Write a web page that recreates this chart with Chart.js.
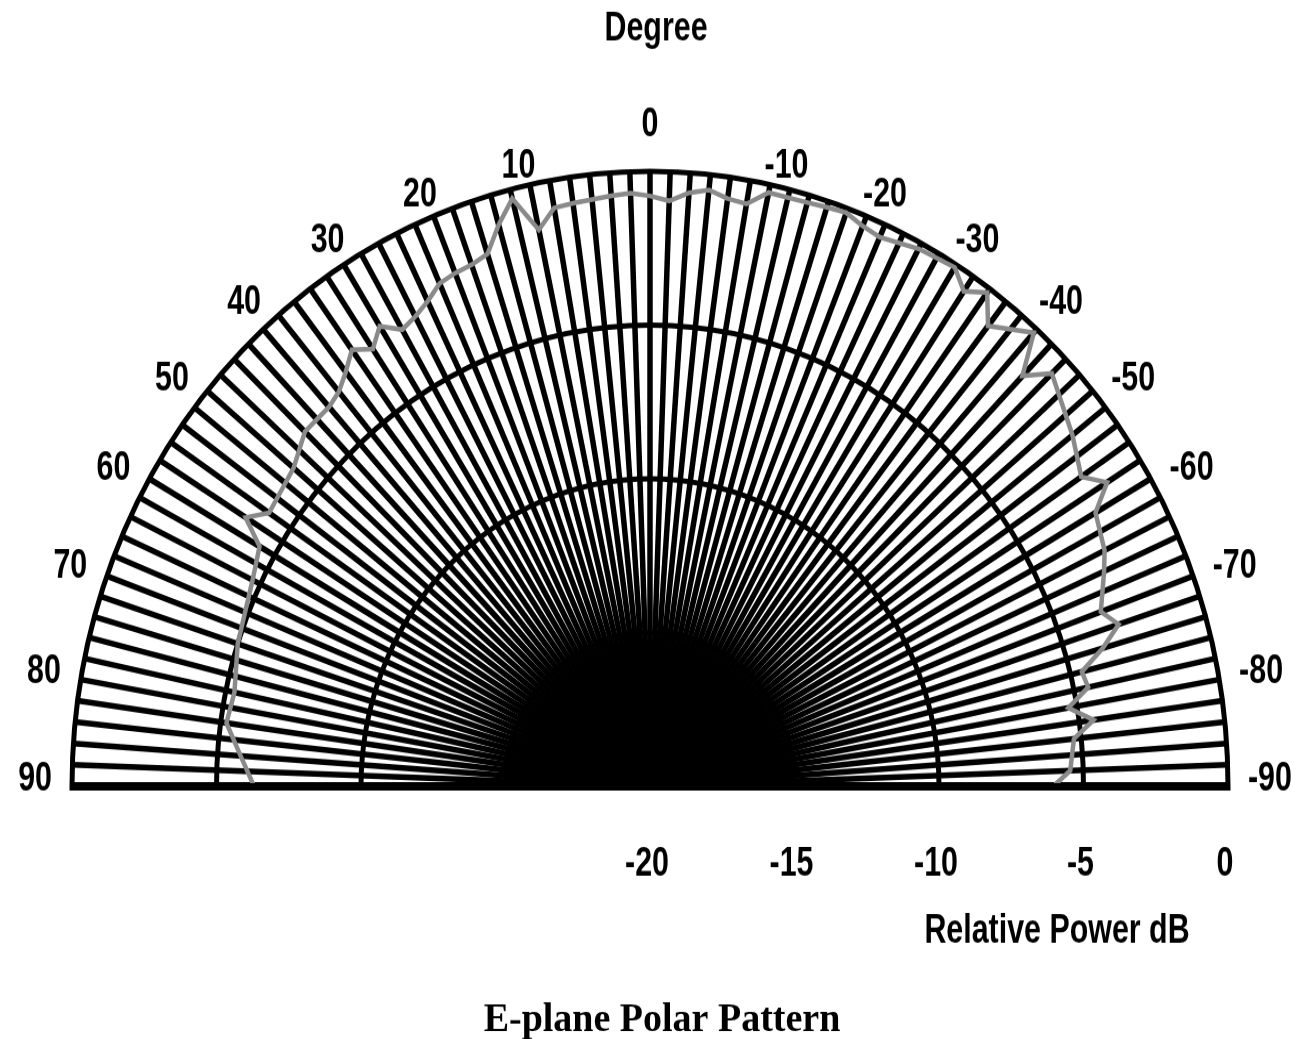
<!DOCTYPE html>
<html lang="en">
<head>
<meta charset="UTF-8">
<title>E-plane Polar Pattern</title>
<script src="https://cdn.jsdelivr.net/npm/chart.js"></script>
<style>
    html, body {
        margin: 0;
        padding: 0;
        background: #fff;
        overflow: hidden;
    }
    #polar {
        display: block;
        transform: scaleY(1.064);
        transform-origin: 0 0;
    }
</style>
</head>
<body>
<canvas id="polar" width="1297" height="1478"></canvas>
<script>
    // E-plane measurement: angle in degrees, relative power in dB
    const patternAngles = [90, 86, 82, 78, 72, 64, 60, 58, 56, 50,
        46, 42, 40, 38, 36, 34, 32, 30, 28, 26,
        24, 22, 20, 18, 16, 14, 12, 10, 8, 4,
        2, 0, -2, -4, -6, -8, -10, -12, -16, -18,
        -20, -22, -24, -28, -32, -34, -36, -38, -42, -44,
        -46, -52, -56, -58, -60, -64, -66, -70, -72, -74,
        -76, -78, -80, -82, -84, -88, -90];
    const patternPower = [-6.3, -5.8, -5.2, -5.3, -5.0, -4.7, -4.4, -3.5, -4.1, -3.9,
        -3.4, -3.4, -3.25, -2.9, -2.45, -2.85, -2.35, -2.85, -2.7, -2.45,
        -2.1, -2.0, -1.95, -1.8, -1.0, -0.3, -1.5, -0.9, -0.85, -0.75,
        -0.7, -0.8, -0.95, -0.65, -0.5, -0.7, -0.77, -0.26, -0.25, -0.2,
        -0.15, -0.35, -0.45, -0.2, -0.1, -0.58, -0.15, -1.0, -0.15, -1.45,
        -0.67, -1.45, -2.0, -1.35, -2.2, -2.5, -2.8, -3.4, -2.95, -3.7,
        -4.6, -4.5, -5.3, -4.5, -5.25, -5.45, -6.05];
    const angleTickLabels = [90, 80, 70, 60, 50, 40, 30, 20, 10, 0,
        -10, -20, -30, -40, -50, -60, -70, -80, -90];
    const powerTicks = [-20, -15, -10, -5, 0];

    const labelFont = 'bold 38px "Liberation Sans", Arial, sans-serif';
    const narrow = 0.8;

    // a spoke every 2 degrees round the whole circle; only the upper half is shown
    const spokeAngles = [];
    for (let i = 0; i < 180; i++) spokeAngles.push(90 - 2 * i);
    const spokeIndex = a => (90 - a) / 2;

    const powerData = spokeAngles.map(() => null);
    patternAngles.forEach((a, k) => {
        powerData[spokeIndex(a)] = patternPower[k];
    });

    // condensed text anchored at (x, y) with the current textAlign
    function narrowText(ctx, text, x, y) {
        ctx.save();
        ctx.translate(x, y);
        ctx.scale(narrow, 1);
        ctx.fillText(text, 0, 0);
        ctx.restore();
    }

    function clipAbove(chart, bottom) {
        const ctx = chart.ctx;
        ctx.save();
        ctx.beginPath();
        ctx.rect(0, 0, chart.width, bottom);
        ctx.clip();
    }

    const upperHalf = {
        id: 'upperHalf',
        beforeDraw(chart) {
            // grid keeps the thick baseline
            clipAbove(chart, chart.scales.r.yCenter + 4);
        },
        beforeDatasetsDraw(chart) {
            chart.ctx.restore();
            // the trace stops on top of the baseline
            clipAbove(chart, chart.scales.r.yCenter - 3);
        },
        afterDatasetsDraw(chart) {
            chart.ctx.restore();
        },
        afterDraw(chart) {
            const r = chart.scales.r;
            const ctx = chart.ctx;
            ctx.save();
            ctx.fillStyle = '#000';
            ctx.textBaseline = 'middle';
            ctx.font = labelFont;

            // degree labels round the rim
            angleTickLabels.forEach(a => {
                const p = r.getPointPosition(spokeIndex(a), r.drawingArea + 7);
                if (a === 0) {
                    ctx.textAlign = 'center';
                    narrowText(ctx, String(a), p.x, p.y - 36);
                } else if (a > 0) {
                    ctx.textAlign = 'right';
                    narrowText(ctx, String(a), p.x - 13, p.y - 6);
                } else {
                    ctx.textAlign = 'left';
                    narrowText(ctx, String(a), p.x + 13, p.y - 6);
                }
            });

            ctx.textAlign = 'center';
            narrowText(ctx, 'Degree', r.xCenter + 6, 28);

            // dB scale read along the baseline
            powerTicks.forEach(v => {
                narrowText(ctx, String(v), r.xCenter + r.getDistanceFromCenterForValue(v) - 3, r.yCenter + 74);
            });
            narrowText(ctx, 'Relative Power dB', 1057, 876);

            ctx.font = 'bold 38px "Liberation Serif", "Times New Roman", serif';
            ctx.fillText('E-plane Polar Pattern', 662, 959);
            ctx.restore();
        }
    };

    new Chart(document.getElementById('polar'), {
        type: 'radar',
        data: {
            labels: spokeAngles,
            datasets: [{
                data: powerData,
                borderColor: '#8a8a8a',
                borderWidth: 4.5,
                pointRadius: 0,
                fill: false,
                spanGaps: true
            }]
        },
        options: {
            responsive: false,
            animation: false,
            layout: { padding: { left: 72, right: 69, top: 0, bottom: 0 } },
            plugins: {
                legend: { display: false },
                tooltip: { enabled: false }
            },
            scales: {
                r: {
                    min: -20,
                    max: 0,
                    startAngle: -90,
                    ticks: { stepSize: 5, display: false },
                    grid: { circular: true, color: '#000', lineWidth: 5 },
                    angleLines: {
                        color: '#000',
                        lineWidth: c => c.index > 90 ? 0 : (c.index % 90 === 0 ? 8 : 5.5)
                    },
                    pointLabels: { display: false }
                }
            }
        },
        plugins: [upperHalf]
    });
</script>
</body>
</html>
